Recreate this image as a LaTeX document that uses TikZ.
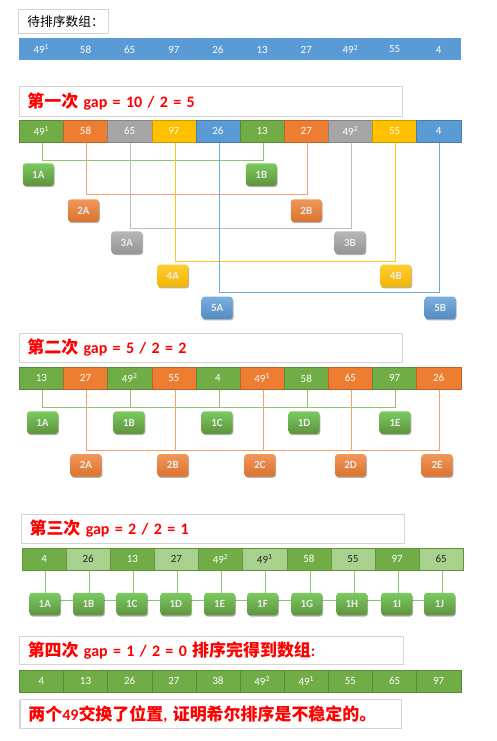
\documentclass[tikz,border=0pt]{standalone}
\usepackage{fontspec}
\setmainfont{Carlito}
\newfontfamily\cjk{Noto Sans CJK SC}[Scale=1.06]
\usetikzlibrary{shadows}
\definecolor{cgreen}{HTML}{70AD47}
\definecolor{corange}{HTML}{ED7D31}
\definecolor{cgray}{HTML}{A5A5A5}
\definecolor{cyellow}{HTML}{FFC000}
\definecolor{cblue}{HTML}{5B9BD5}
\definecolor{clgreen}{HTML}{A9D18E}
\definecolor{lgreen}{HTML}{8FC46A}
\definecolor{lorange}{HTML}{F4A068}
\definecolor{lgray}{HTML}{BDBDBD}
\definecolor{lyellow}{HTML}{FFC520}
\definecolor{lblue}{HTML}{6FA6DB}
\definecolor{hdrgray}{HTML}{D4D4D4}
\pgfdeclarelayer{bg}
\pgfsetlayers{bg,main}
\begin{document}
\begin{tikzpicture}[x=1pt,y=-1pt,
  cell/.style={minimum width=44.15pt, minimum height=22pt, inner sep=0pt,
    font=\fontsize{11}{12}\selectfont, text=white},
  btn/.style={rounded corners=3pt, minimum width=31pt, minimum height=22.5pt,
    inner sep=0pt, font=\fontsize{11}{12}\selectfont\bfseries, text=white!92!black,
    drop shadow={shadow xshift=0.8pt, shadow yshift=-1.3pt, opacity=0.3, fill=black}},
  gbtn/.style={btn, top color=green!20!cgreen!80!white, bottom color=cgreen!85!black},
  obtn/.style={btn, top color=corange!80!white, bottom color=corange!92!black},
  grbtn/.style={btn, top color=cgray!80!white, bottom color=cgray!90!black},
  ybtn/.style={btn, top color=cyellow!80!white, bottom color=cyellow!95!black},
  bbtn/.style={btn, top color=cblue!80!white, bottom color=cblue!90!black},
  hdr/.style={draw=hdrgray, fill=white, line width=0.8pt, minimum width=383pt,
    minimum height=30pt, inner xsep=8pt, text width=367pt, align=left,
    anchor=north west, text=red, font=\fontsize{16}{20}\selectfont\bfseries},
  conn/.style={line width=1pt},
]
\useasboundingbox (0,0) rectangle (497,741);

% ---------- top label ----------
\node[draw=hdrgray, line width=0.8pt, fill=white, minimum width=90pt, minimum height=24pt,
  inner xsep=9pt, text width=72pt, align=left, anchor=north west,
  font=\fontsize{12}{14}\selectfont] (lbl) at (18,9) {\cjk 待排序数组：};

\foreach \v [count=\i] in {49\textsuperscript{1},58,65,97,26,13,27,49\textsuperscript{2},55,4}
  \node[cell, fill=cblue] (r0-\i) at ({19.3+(\i-0.5)*44.15},49.5) {\v};

% ---------- pass 1 ----------
\node[hdr] (h1) at (19,86) {{\cjk 第一次} gap = 10 / 2 = 5};
\foreach \v/\c [count=\i] in {49\textsuperscript{1}/cgreen,58/corange,65/cgray,97/cyellow,26/cblue,
    13/cgreen,27/corange,49\textsuperscript{2}/cgray,55/cyellow,4/cblue}
  \node[cell, fill=\c, draw=\c!80!black, line width=0.4pt] (r1-\i) at ({19.3+(\i-0.5)*44.15},131) {\v};

\node[gbtn]  (p1-1A) at (38.3,174.5) {1A};
\node[gbtn]  (p1-1B) at (261.3,174.5) {1B};
\node[obtn]  (p1-2A) at (83.5,210.5) {2A};
\node[obtn]  (p1-2B) at (306.3,210.5) {2B};
\node[grbtn] (p1-3A) at (126.8,242.5) {3A};
\node[grbtn] (p1-3B) at (350,242.5) {3B};
\node[ybtn]  (p1-4A) at (172.8,275.8) {4A};
\node[ybtn]  (p1-4B) at (395.8,275.8) {4B};
\node[bbtn]  (p1-5A) at (217.2,307.8) {5A};
\node[bbtn]  (p1-5B) at (440.2,307.8) {5B};

\begin{pgfonlayer}{bg}
  \draw[conn, lgreen]  ([xshift=1.2pt]r1-1.south) -- ++(0,18)    -| ([xshift=1.2pt]r1-6.south);
  \draw[conn, lorange] ([xshift=1.2pt]r1-2.south) -- ++(0,52.3)  -| ([xshift=1.2pt]r1-7.south);
  \draw[conn, lgray]   ([xshift=1.2pt]r1-3.south) -- ++(0,86.3)  -| ([xshift=1.2pt]r1-8.south);
  \draw[conn, lyellow] ([xshift=1.2pt]r1-4.south) -- ++(0,119)   -| ([xshift=1.2pt]r1-9.south);
  \draw[conn, lblue]   ([xshift=1.2pt]r1-5.south) -- ++(0,150.3) -| ([xshift=1.2pt]r1-10.south);
\end{pgfonlayer}

% ---------- pass 2 ----------
\node[hdr, minimum height=29pt] (h2) at (19,332.7) {{\cjk 第二次} gap = 5 / 2 = 2};
\foreach \v/\c [count=\i] in {13/cgreen,27/corange,49\textsuperscript{2}/cgreen,55/corange,4/cgreen,
    49\textsuperscript{1}/corange,58/cgreen,65/corange,97/cgreen,26/corange}
  \node[cell, fill=\c, draw=\c!80!black, line width=0.4pt] (r2-\i) at ({19.3+(\i-0.5)*44.15},378.3) {\v};

\foreach \n/\x in {A/42.5,B/129,C/217,D/304,E/395}
  \node[gbtn] (p2-1\n) at (\x,422.5) {1\n};
\foreach \n/\x in {A/86,B/172.8,C/259.8,D/350.5,E/437}
  \node[obtn] (p2-2\n) at (\x,465.3) {2\n};

\begin{pgfonlayer}{bg}
  \draw[conn, lgreen] ([xshift=1.2pt]r2-1.south) -- ++(0,18.4) -| ([xshift=1.2pt]r2-9.south);
  \foreach \i in {3,5,7}
    \draw[conn, lgreen] ([xshift=1.2pt]r2-\i.south) -- ++(0,18.4);
  \draw[conn, lorange] ([xshift=1.2pt]r2-2.south) -- ++(0,60.7) -| ([xshift=1.2pt]r2-10.south);
  \foreach \i in {4,6,8}
    \draw[conn, lorange] ([xshift=1.2pt]r2-\i.south) -- ++(0,60.7);
\end{pgfonlayer}

% ---------- pass 3 ----------
\node[hdr, minimum width=383.3pt, minimum height=28.7pt] (h3) at (21,514) {{\cjk 第三次} gap = 2 / 2 = 1};
\foreach \v/\c/\t [count=\i] in {4/cgreen/white,26/clgreen/black!85,13/cgreen/white,27/clgreen/black!85,
    49\textsuperscript{2}/cgreen/white,49\textsuperscript{1}/clgreen/black!85,58/cgreen/white,
    55/clgreen/black!85,97/cgreen/white,65/clgreen/black!85}
  \node[cell, fill=\c, draw=cgreen!85!black, line width=0.4pt, text=\t] (r3-\i) at ({22+(\i-0.5)*44.13},559.2) {\v};

\foreach \n/\x [count=\i] in {A/44.8,B/88.5,C/131.8,D/175.8,E/219.5,F/262.5,G/306.8,H/351.8,I/396.7,J/439.5}
  \node[gbtn] (p3-\i) at (\x,604) {1\n};

\begin{pgfonlayer}{bg}
  \foreach \i in {1,...,10}
    \draw[conn, lgreen] ([xshift=1.2pt]r3-\i.south) -- ([xshift=1.2pt,yshift=4pt]r3-\i.south |- p3-\i.center);
  \draw[conn, lgreen] ([yshift=4pt]p3-1.center) -- ([yshift=4pt]p3-10.center);
\end{pgfonlayer}

% ---------- pass 4 ----------
\node[hdr, minimum width=383.7pt, minimum height=28.6pt] (h4) at (19,635.7)
  {{\cjk 第四次} gap = 1 / 2 = 0 {\cjk 排序完得到数组}:};
\foreach \v [count=\i] in {4,13,26,27,38,49\textsuperscript{2},49\textsuperscript{1},55,65,97}
  \node[cell, fill=cgreen, draw=cgreen!80!black, line width=0.4pt] (r4-\i) at ({19.3+(\i-0.5)*44.15},680.8) {\v};

\node[hdr, minimum width=381pt, minimum height=28.7pt, text width=365pt,
  drop shadow={shadow xshift=-1pt, shadow yshift=-1pt, opacity=0.15, fill=black}] (h5) at (20,699)
  {{\cjk 两个}49{\cjk 交换了位置}, {\cjk 证明希尔排序是不稳定的。}};
\end{tikzpicture}
\end{document}
